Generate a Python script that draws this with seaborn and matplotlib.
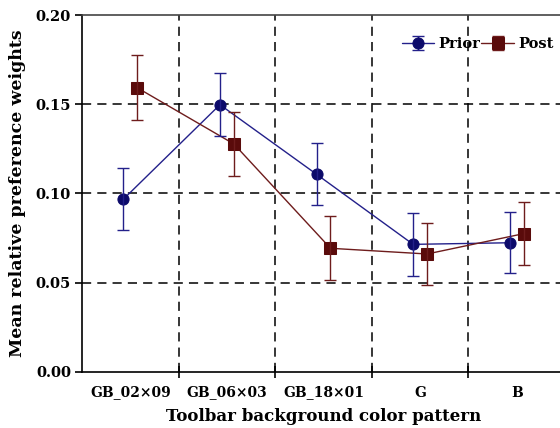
import matplotlib
matplotlib.use("Agg")
import matplotlib.pyplot as plt
from matplotlib.container import ErrorbarContainer
import numpy as np
import pandas as pd
import seaborn as sns

categories = ["GB_02\u00d709", "GB_06\u00d703", "GB_18\u00d701", "G", "B"]
prior_mean = [0.0967, 0.1497, 0.1107, 0.0714, 0.0723]
prior_err = [0.0175, 0.0175, 0.0175, 0.0177, 0.0172]
post_mean = [0.1592, 0.1277, 0.0692, 0.0660, 0.0774]
post_err = [0.0181, 0.0180, 0.0180, 0.0176, 0.0177]

colors = {"Prior": "#0c0a6a", "Post": "#5a0b0b"}
line_colors = {"Prior": "#23208a", "Post": "#6e1c1c"}
offset = {"Prior": -0.072, "Post": 0.072}

sns.set_style("ticks")
plt.rcParams["font.family"] = ["DejaVu Serif"]
plt.rcParams["font.weight"] = "bold"
for key in ["text.color", "axes.labelcolor", "xtick.color", "ytick.color"]:
    plt.rcParams[key] = "black"

rows = []
for phase, means, errs in [("Prior", prior_mean, prior_err), ("Post", post_mean, post_err)]:
    for i, (m, e) in enumerate(zip(means, errs)):
        rows.append({"phase": phase, "pos": i + offset[phase], "mean": m, "err": e})
df = pd.DataFrame(rows)

fig = plt.figure(figsize=(5.6, 4.28), dpi=100)
ax = fig.add_axes([82 / 560, 56.3 / 428, 483 / 560, 356.7 / 428])

# grid lines first so marks sit on top
for y in [0.05, 0.10, 0.15]:
    ax.axhline(y, color="black", lw=1.1, ls=(0, (6, 4)), zorder=0)
for x in [0.5, 1.5, 2.5, 3.5]:
    ax.axvline(x, color="black", lw=1.1, ls=(0, (6, 4)), zorder=0)

sns.lineplot(data=df, x="pos", y="mean", hue="phase", style="phase",
             palette=line_colors, markers={"Prior": "o", "Post": "s"},
             dashes=False, markersize=8, linewidth=1.0, legend=False, ax=ax,
             sort=False)
for ln, phase in zip(ax.lines[-2:], ["Prior", "Post"]):
    ln.set_markerfacecolor(colors[phase])
    ln.set_markeredgecolor(colors[phase])

handles = []
for ln, phase in zip(ax.lines[-2:], ["Prior", "Post"]):
    sub = df[df.phase == phase]
    eb = ax.errorbar(sub["pos"], sub["mean"], yerr=sub["err"], fmt="none",
                     ecolor=line_colors[phase], elinewidth=1.0, capsize=4.5,
                     capthick=1.0, zorder=3)
    handles.append(ErrorbarContainer((ln, eb.lines[1], eb.lines[2]),
                                     has_xerr=False, has_yerr=True, label=phase))

ax.legend(handles=handles, labels=["Prior", "Post"], loc="upper right",
          ncol=2, frameon=False, fontsize=10.5, handlelength=2.2,
          handletextpad=0.3, columnspacing=0.1, bbox_to_anchor=(1.003, 0.975))

ax.set_xlim(-0.5, 4.5)
ax.set_ylim(0, 0.2)
ax.set_yticks([0.0, 0.05, 0.10, 0.15, 0.20])
ax.set_yticklabels(["0.00", "0.05", "0.10", "0.15", "0.20"])
ax.set_xticks([0.5, 1.5, 2.5, 3.5])
ax.set_xticklabels([])
ax.set_xticks(range(len(categories)), minor=True)
ax.set_xticklabels(categories, minor=True)
ax.tick_params(axis="x", which="major", direction="inout", length=8, width=1.2)
ax.tick_params(axis="x", which="minor", length=0, pad=10, labelsize=10)
ax.tick_params(axis="y", direction="out", length=5, width=1.2, labelsize=10.5, pad=3)

for side in ["left", "bottom"]:
    ax.spines[side].set_linewidth(1.2)
    ax.spines[side].set_color("black")
ax.spines["top"].set_color("#444444")
ax.spines["top"].set_linewidth(1.2)
ax.spines["right"].set_visible(False)

ax.set_xlabel("Toolbar background color pattern", fontsize=12, fontweight="bold", labelpad=6)
ax.set_ylabel("Mean relative preference weights", fontsize=12.5, fontweight="bold", labelpad=7)

fig.savefig("out.png", dpi=100)
